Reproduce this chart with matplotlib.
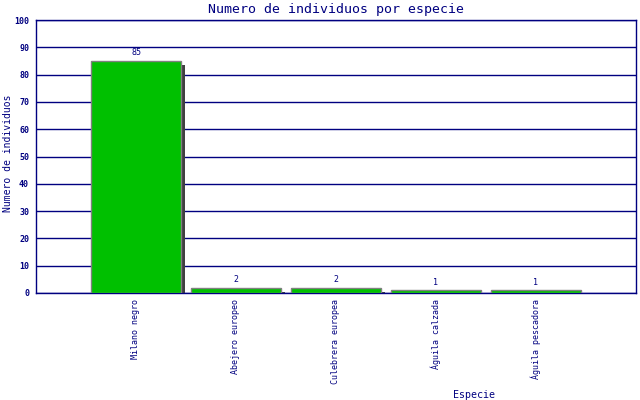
import matplotlib
matplotlib.use("Agg")
import matplotlib.pyplot as plt
import numpy as np

species = ["Milano negro", "Abejero europeo", "Culebrera europea",
           "Águila calzada", "Águila pescadora"]
counts = [85, 2, 2, 1, 1]

navy = "#000080"
green = "#00C000"
font = "DejaVu Sans Mono"

fig = plt.figure(figsize=(6.4, 4.0), dpi=100)
ax = fig.add_axes([36 / 640, 107 / 400, 600 / 640, 273 / 400])

x = np.arange(1, len(species) + 1)

# shadow: offset right and down, drawn from the baseline
shadow = [c - 1.5 for c in counts]
ax.bar(x + 0.04, shadow, 0.9, color="#404040", zorder=2, clip_on=False)
ax.bar(x, counts, 0.9, color=green, edgecolor="#808080", linewidth=1,
       zorder=3)

for xi, c in zip(x, counts):
    ax.text(xi, c + 1.3, str(c), ha="center", va="bottom", fontsize=6,
            color=navy, family=font)

ax.set_xlim(0, 6)
ax.set_ylim(0, 100)
ax.set_yticks(np.arange(0, 101, 10))
ax.set_yticklabels([str(v) for v in range(0, 101, 10)], fontsize=6,
                   color=navy, family=font, fontweight="bold")
ax.set_xticks(x)
ax.set_xticklabels(species, rotation=90, fontsize=6, color=navy,
                   family=font, va="top", ha="center")
ax.tick_params(axis="both", length=0, pad=5)
ax.tick_params(axis="x", pad=4)

ax.grid(True, axis="y", color=navy, linewidth=1)
ax.set_axisbelow(True)
for s in ax.spines.values():
    s.set_color(navy)
    s.set_linewidth(1)

fig.text(336 / 640, 1 - 9 / 400, "Numero de individuos por especie",
         fontsize=9.5, color=navy, family=font, ha="center", va="center")
fig.text(8 / 640, 1 - 153 / 400, "Numero de individuos", rotation=90,
         fontsize=7, color=navy, family=font, ha="center", va="center")
fig.text(474 / 640, 1 - 395 / 400, "Especie", fontsize=7.2, color=navy,
         family=font, ha="center", va="center")

fig.savefig("out.png", dpi=100)
